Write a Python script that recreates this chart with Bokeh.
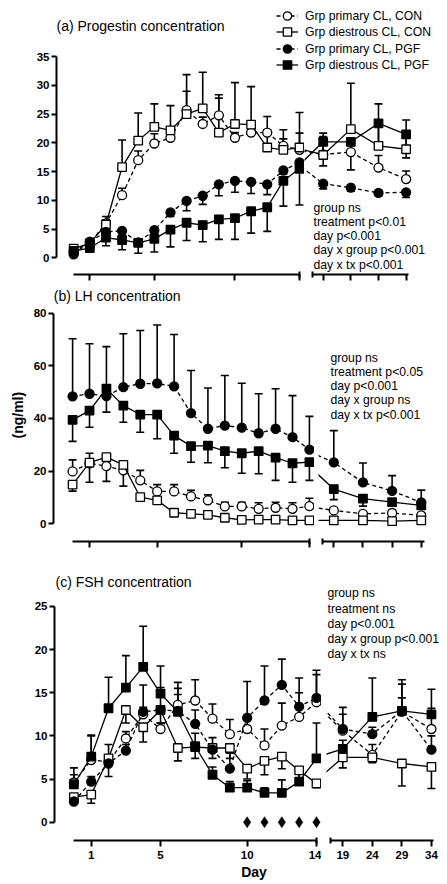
from math import pi
from bokeh.plotting import figure
from bokeh.models import (ColumnDataSource, Whisker, TeeHead, Label, Legend,
                          LegendItem, FixedTicker, Range1d, Title)
from bokeh.layouts import column, row
from bokeh.embed import file_html
from bokeh.resources import INLINE

FONT = "Liberation Sans"

# ---------------- data ----------------
DAYS = [0, 1, 2, 3, 4, 5, 6, 7, 8, 9, 10, 11, 12, 13, 14, 19, 24, 29, 34]
N_EARLY = 15
X_TICKS_EARLY = [1, 5, 10, 14]
X_TICKS_LATE = [19, 24, 29, 34]

LEGEND_LABELS = ["Grp primary CL, CON", "Grp diestrous CL, CON",
                 "Grp primary CL, PGF", "Grp diestrous CL, PGF"]

# (a) Progestin
PROG_TICKS = [0, 5, 10, 15, 20, 25, 30, 35]
PROG_PRIMARY_CON = [1.1, 2.6, 6.0, 10.9, 17.0, 19.9, 20.9, 25.7, 23.3, 24.8, 20.9, 21.8, 21.8, 19.5, 18.8,
                    18.0, 18.4, 15.7, 13.7]
PROG_PRIMARY_CON_BAR = [1.6, 3.0, 6.6, 12.1, 18.6, 21.6, 21.6, 29.0, 24.5, 27.8, 21.8, 22.5, 24.6, 20.7, 21.7,
                        21.1, 19.5, 17.8, 15.1]
PROG_DIESTROUS_CON = [1.6, 2.5, 5.8, 15.8, 20.4, 22.8, 22.2, 25.0, 26.0, 21.8, 23.3, 23.2, 19.2, 18.8, 19.2,
                      17.9, 22.4, 19.5, 18.9]
PROG_DIESTROUS_CON_BAR = [2.0, 3.0, 7.2, 20.5, 25.2, 26.8, 26.5, 31.9, 32.3, 28.4, 30.5, 29.8, 22.3, 22.3, 25.3,
                          21.7, 30.4, 26.8, 24.0]
PROG_PRIMARY_PGF = [0.6, 2.8, 4.5, 4.7, 2.7, 4.8, 7.9, 9.9, 10.8, 12.8, 13.4, 13.2, 12.8, 15.2, 16.6,
                    12.9, 12.2, 11.3, 11.4]
PROG_PRIMARY_PGF_BAR = [0.3, 2.4, 4.0, 4.2, 2.2, 4.2, 7.2, 8.2, 9.3, 10.8, 11.4, 11.2, 11.0, 14.6, 16.1,
                        12.0, 11.6, 10.8, 10.5]
PROG_DIESTROUS_PGF = [1.2, 1.7, 3.5, 3.1, 2.6, 3.3, 4.9, 6.1, 5.7, 6.7, 6.9, 8.1, 8.8, 13.4, 15.5,
                      20.2, 20.2, 23.4, 21.5]
PROG_DIESTROUS_PGF_BAR = [0.8, 1.4, 2.1, 1.4, 0.8, 1.0, 1.9, 3.0, 2.8, 3.2, 3.2, 4.3, 4.6, 9.0, 9.2,
                          16.0, 15.3, 19.6, 17.4]

# (b) LH
LH_TICKS = [0, 20, 40, 60, 80]
LH_PRIMARY_CON = [19.9, 23.0, 21.9, 20.3, 16.5, 12.3, 12.3, 10.4, 8.9, 6.6, 6.6, 5.7, 6.1, 5.7, 6.7,
                  5.1, 3.8, 4.1, 3.2]
LH_PRIMARY_CON_BAR = [24.3, 26.8, 24.0, 21.5, 20.3, 14.9, 14.9, 12.7, 11.0, 8.2, 8.2, 8.0, 8.2, 8.0, 9.7,
                      5.8, 4.6, 5.0, 4.2]
LH_DIESTROUS_CON = [14.9, 23.2, 25.3, 22.4, 10.1, 8.9, 4.2, 3.8, 3.4, 2.3, 1.5, 1.6, 1.6, 1.3, 1.3,
                    1.3, 1.3, 1.0, 1.3]
LH_DIESTROUS_CON_BAR = [12.4, 15.8, 16.1, 14.3, 9.3, 8.2, 3.6, 3.2, 2.9, 1.9, 1.1, 1.2, 1.2, 1.0, 1.0,
                        1.0, 1.0, 0.7, 1.0]
LH_PRIMARY_PGF = [48.4, 49.4, 48.5, 51.9, 53.2, 53.3, 52.2, 42.0, 36.1, 37.3, 36.5, 34.4, 36.1, 32.9, 28.2,
                  23.3, 15.7, 12.5, 8.1]
LH_PRIMARY_PGF_BAR = [70.3, 68.4, 67.3, 72.2, 73.4, 75.5, 71.9, 58.2, 51.6, 56.3, 53.4, 49.4, 51.3, 48.7, 40.8,
                      35.4, 23.1, 18.3, 12.8]
LH_DIESTROUS_PGF = [39.5, 43.0, 51.3, 44.9, 41.5, 41.5, 33.5, 29.5, 29.7, 27.6, 26.8, 27.6, 25.1, 23.0, 23.4,
                    13.2, 9.6, 8.2, 7.0]
LH_DIESTROUS_PGF_BAR = [31.3, 36.7, 42.4, 38.6, 34.8, 32.3, 26.8, 23.4, 23.2, 21.3, 19.2, 19.0, 16.5, 15.8, 16.5,
                        9.2, 6.7, 7.0, 6.0]

# (c) FSH
FSH_TICKS = [0, 5, 10, 15, 20, 25]
FSH_PRIMARY_CON = [4.6, 7.2, 7.0, 9.7, 12.5, 10.8, 13.6, 14.1, 12.0, 10.2, 10.8, 8.9, 11.2, 12.2, 13.9,
                   10.6, 7.8, 12.8, 10.8]
FSH_PRIMARY_CON_BAR = [6.3, 10.0, 9.0, 10.5, 13.3, 11.5, 16.2, 16.5, 13.7, 11.9, 12.3, 10.8, 13.8, 15.0, 17.1,
                       12.5, 9.0, 16.0, 13.2]
FSH_DIESTROUS_CON = [2.9, 3.2, 7.4, 13.0, 11.0, 13.0, 8.6, 8.7, 8.6, 8.6, 6.2, 7.1, 7.6, 6.0, 4.5,
                     7.5, 7.5, 6.8, 6.4]
FSH_DIESTROUS_CON_BAR = [2.5, 2.2, 5.3, 11.5, 9.3, 11.5, 7.1, 7.4, 7.4, 7.4, 5.0, 5.5, 6.2, 4.8, 4.0,
                         6.3, 6.9, 4.2, 3.9]
FSH_PRIMARY_PGF = [2.4, 4.7, 6.8, 8.3, 12.8, 13.0, 12.9, 11.4, 8.4, 6.2, 12.1, 14.1, 15.9, 13.4, 14.4,
                   10.8, 10.2, 12.9, 8.4]
FSH_PRIMARY_PGF_BAR = [3.0, 5.3, 7.8, 9.0, 15.9, 15.6, 15.5, 13.0, 9.8, 8.0, 16.3, 18.1, 18.9, 16.7, 17.6,
                       13.3, 11.0, 14.4, 10.0]
FSH_DIESTROUS_PGF = [4.4, 7.6, 13.2, 15.6, 18.0, 14.9, 12.8, 8.8, 5.5, 4.0, 4.0, 3.4, 3.4, 4.7, 7.4,
                     8.5, 12.2, 12.9, 12.5]
FSH_DIESTROUS_PGF_BAR = [5.5, 10.1, 16.8, 19.3, 22.7, 18.1, 14.8, 10.3, 6.4, 4.7, 4.8, 4.0, 4.9, 6.0, 11.5,
                         9.5, 16.7, 16.5, 15.4]
FSH_SIG_DAYS = [10, 11, 12, 13, 14]
FSH_SIG_LEVEL = [0, 0, 0, 0, 0]

TITLES = ["(a) Progestin concentration", "(b) LH concentration", "(c) FSH concentration"]
STATS_A = ["group ns", "treatment p<0.01", "day p<0.001", "day x group p<0.001", "day x tx p<0.001"]
STATS_B = ["group ns", "treatment p<0.05", "day p<0.001", "day x group ns", "day x tx p<0.001"]
STATS_C = ["group ns", "treatment ns", "day p<0.001", "day x group p<0.001", "day x tx ns"]
Y_LABEL = "(ng/ml)"
X_LABEL = "Day"

# ---------------- styles ----------------
STYLE = {
    "pc": dict(marker="circle", fill="white", dash="4 3", size=9),
    "dc": dict(marker="square", fill="white", dash="solid", size=8.5),
    "pp": dict(marker="circle", fill="black", dash="4 3", size=9),
    "dp": dict(marker="square", fill="black", dash="solid", size=8.5),
}


def add_text(p, x, y, text, size="12.2px", bold=False, align="left",
             baseline="middle", angle=0.0):
    p.add_layout(Label(x=x, y=y, x_units="screen", y_units="screen", text=text,
                       text_font=FONT, text_font_size=size,
                       text_font_style="bold" if bold else "normal",
                       text_align=align, text_baseline=baseline, angle=angle,
                       text_color="black"))


def draw_series(p, key, line_x, line_y, mx, my, bar_end, direction):
    st = STYLE[key]
    head = TeeHead(size=8, line_width=1.6, line_color="black")
    if direction == "up":
        src = ColumnDataSource(dict(x=mx, lo=my, hi=bar_end))
        wh = Whisker(source=src, base="x", lower="lo", upper="hi",
                     upper_head=head, lower_head=None,
                     line_width=1.6, line_color="black", level="underlay")
    else:
        src = ColumnDataSource(dict(x=mx, lo=bar_end, hi=my))
        wh = Whisker(source=src, base="x", lower="lo", upper="hi",
                     lower_head=head, upper_head=None,
                     line_width=1.6, line_color="black", level="underlay")
    p.add_layout(wh)
    lr = p.line(line_x, line_y, line_color="black", line_width=1.3, line_dash=st["dash"])
    sr = p.scatter(mx, my, marker=st["marker"], size=st["size"], fill_color=st["fill"],
                   line_color="black", line_width=1.3)
    return lr, sr


def base_style(p):
    p.grid.visible = False
    p.outline_line_color = None
    p.background_fill_color = "white"
    p.border_fill_color = "white"


def style_xaxis(ax, ticks, minor, bounds, show_labels):
    ax.ticker = FixedTicker(ticks=ticks, minor_ticks=minor)
    ax.bounds = bounds
    ax.axis_line_width = 2
    ax.axis_line_color = "black"
    ax.major_tick_line_width = 2
    ax.minor_tick_line_width = 2
    ax.major_tick_in = 0
    ax.major_tick_out = 6
    ax.minor_tick_in = 3
    ax.minor_tick_out = 3
    ax.major_label_text_font = FONT
    ax.major_label_text_font_style = "bold"
    ax.major_label_text_color = "black"
    if show_labels:
        ax.major_label_text_font_size = "11.5px"
        ax.major_label_standoff = 4
    else:
        ax.major_label_overrides = {t: "" for t in ticks}
        ax.major_label_text_font_size = "1px"
        ax.major_label_standoff = 0


def style_yaxis(ax, ticks):
    ax.ticker = FixedTicker(ticks=ticks)
    ax.bounds = (ticks[0], ticks[-1])
    ax.axis_line_width = 2
    ax.axis_line_color = "black"
    ax.major_tick_line_width = 2
    ax.major_tick_in = 0
    ax.major_tick_out = 5
    ax.minor_tick_in = 0
    ax.minor_tick_out = 0
    ax.major_label_standoff = 2
    ax.major_label_text_font = FONT
    ax.major_label_text_font_style = "bold"
    ax.major_label_text_font_size = "11.5px"
    ax.major_label_text_color = "black"


def build_panel(g, yticks, series, show_x_labels):
    yr = Range1d(g["y0"], g["y1"])
    left = figure(width=g["lw"], height=g["h"], x_range=Range1d(*g["lx"]), y_range=yr,
                  output_backend="svg", toolbar_location=None,
                  min_border_left=g["lb"], min_border_right=0,
                  min_border_top=0, min_border_bottom=g["bb"])
    right = figure(width=g["rw"], height=g["h"], x_range=Range1d(*g["rx"]), y_range=yr,
                   output_backend="svg", toolbar_location=None, y_axis_location=None,
                   min_border_left=g["rbl"], min_border_right=g["rbr"],
                   min_border_top=0, min_border_bottom=g["bb"])
    for p in (left, right):
        base_style(p)
    style_yaxis(left.yaxis[0], yticks)
    style_xaxis(left.xaxis[0], X_TICKS_EARLY, [14], (0, 14.001), show_x_labels)
    style_xaxis(right.xaxis[0], X_TICKS_LATE, [g["rb"][0] + 0.01], g["rb"], show_x_labels)

    handles = []
    for key, vals, bars, direction in series:
        lr, sr = draw_series(left, key, DAYS[:N_EARLY], vals[:N_EARLY],
                             DAYS[:N_EARLY], vals[:N_EARLY], bars[:N_EARLY], direction)
        draw_series(right, key, DAYS[N_EARLY - 1:], vals[N_EARLY - 1:],
                    DAYS[N_EARLY:], vals[N_EARLY:], bars[N_EARLY:], direction)
        handles.append((lr, sr))
    return left, right, handles


# ---------------- geometry (pixels / axis ranges) ----------------
GA = dict(h=284, bb=10, y0=-2.91, y1=44.80,
          lw=304, lb=56, lx=(-1.066, 14.31),
          rw=143, rbl=0, rbr=2, rx=(15.618, 41.12), rb=(17.12, 34.45))
GB = dict(h=266, bb=9, y0=-6.72, y1=90.89,
          lw=314, lb=53, lx=(-1.129, 14.30),
          rw=133, rbl=4, rbr=2, rx=(16.376, 38.16), rb=(17.06, 34.56))
GC = dict(h=334, bb=44, y0=-2.12, y1=31.48,
          lw=321, lb=54, lx=(-1.119, 14.29),
          rw=126, rbl=5, rbr=2, rx=(16.242, 36.38), rb=(16.92, 34.3))

# panel a
a_left, a_right, a_h = build_panel(GA, PROG_TICKS, [
    ("pc", PROG_PRIMARY_CON, PROG_PRIMARY_CON_BAR, "up"),
    ("dc", PROG_DIESTROUS_CON, PROG_DIESTROUS_CON_BAR, "up"),
    ("pp", PROG_PRIMARY_PGF, PROG_PRIMARY_PGF_BAR, "down"),
    ("dp", PROG_DIESTROUS_PGF, PROG_DIESTROUS_PGF_BAR, "down"),
], False)
add_text(a_left, 0, 249, TITLES[0], size="14px")
# legend: glyph samples in the left figure, one small legend per row
for i, (lr, sr) in enumerate(a_h):
    row_center = 259 - 16.5 * i          # px above the frame bottom
    leg = Legend(items=[LegendItem(label=" ", renderers=[lr, sr])],
                 location=(220, row_center - 10.5), glyph_width=22, glyph_height=21,
                 label_height=16, label_width=1, spacing=0, padding=0, margin=0,
                 label_standoff=0, background_fill_alpha=0, border_line_alpha=0,
                 label_text_font_size="1px")
    a_left.add_layout(leg)
for i, txt in enumerate(LEGEND_LABELS):
    add_text(a_right, 0.5, 259 - 16.5 * i, txt, size="12.2px")
for i, txt in enumerate(STATS_A):
    add_text(a_right, 9, 66.7 - 14.2 * i, txt)

# panel b
b_left, b_right, _ = build_panel(GB, LH_TICKS, [
    ("pc", LH_PRIMARY_CON, LH_PRIMARY_CON_BAR, "up"),
    ("dc", LH_DIESTROUS_CON, LH_DIESTROUS_CON_BAR, "down"),
    ("pp", LH_PRIMARY_PGF, LH_PRIMARY_PGF_BAR, "up"),
    ("dp", LH_DIESTROUS_PGF, LH_DIESTROUS_PGF_BAR, "down"),
], False)
add_text(b_left, 0.3, 246, TITLES[1], size="14px")
b_left.add_layout(Title(text=Y_LABEL, align="left", offset=103, standoff=10,
                        text_font=FONT, text_font_size="14px", text_font_style="bold",
                        text_color="black"), "left")
for i, txt in enumerate(STATS_B):
    add_text(b_right, 12, 183.7 - 14.2 * i, txt)

# panel c
c_left, c_right, _ = build_panel(GC, FSH_TICKS, [
    ("pc", FSH_PRIMARY_CON, FSH_PRIMARY_CON_BAR, "up"),
    ("dc", FSH_DIESTROUS_CON, FSH_DIESTROUS_CON_BAR, "down"),
    ("pp", FSH_PRIMARY_PGF, FSH_PRIMARY_PGF_BAR, "up"),
    ("dp", FSH_DIESTROUS_PGF, FSH_DIESTROUS_PGF_BAR, "up"),
], True)
c_left.scatter(FSH_SIG_DAYS, FSH_SIG_LEVEL, marker="diamond", size=11, fill_color="black",
               line_color="black", line_width=0.5)
add_text(c_left, 1, 258.3, TITLES[2], size="14px")
c_left.add_layout(Title(text=X_LABEL, align="left", offset=186.7, standoff=0,
                        text_font=FONT, text_font_size="14px", text_font_style="bold",
                        text_color="black"), "below")
for i, txt in enumerate(STATS_C):
    add_text(c_right, 1, 247.3 - 15.3 * i, txt)

layout = column(row(a_left, a_right), row(b_left, b_right), row(c_left, c_right))

with open("out.html", "w") as f:
    f.write(file_html(layout, INLINE))
